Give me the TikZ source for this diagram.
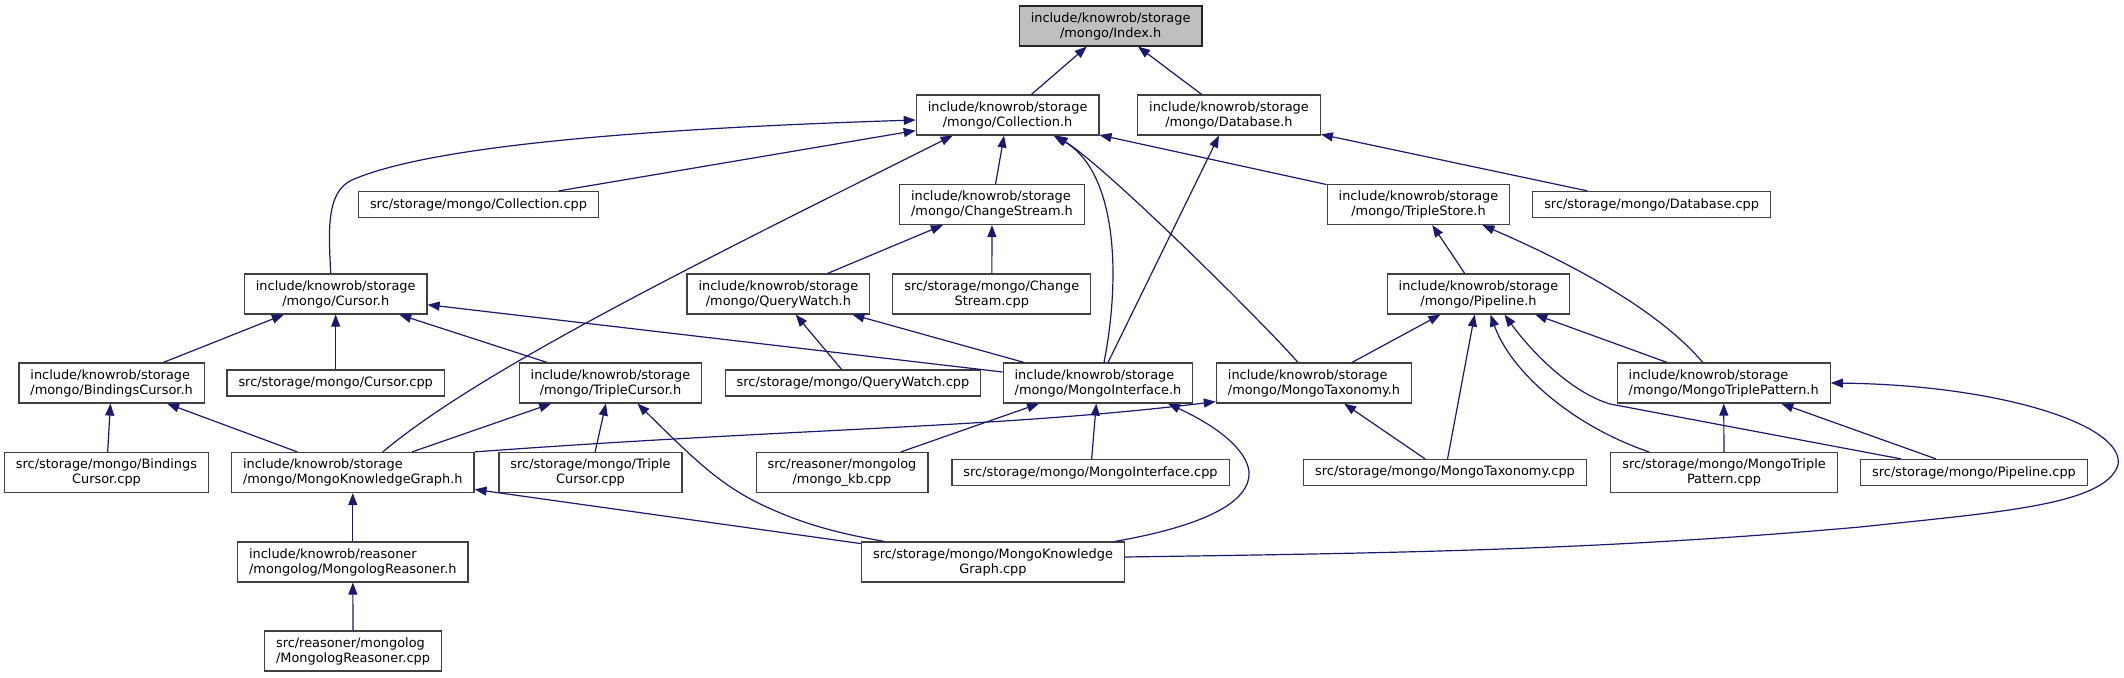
\documentclass[tikz,border=0pt]{standalone}
\usepackage{fontspec}
\usepackage{tikz}
\usetikzlibrary{arrows.meta}
\newfontfamily\graphfont{DejaVu Sans}
\definecolor{incblue}{RGB}{25,25,112}
\definecolor{boxgris}{RGB}{64,64,64}
\definecolor{rootgris}{RGB}{191,191,191}
\tikzset{
  incfile/.style={
    rectangle, draw=boxgris, fill=white, line width=1.2pt,
    inner xsep=11.5pt, inner ysep=3pt, minimum height=26pt,
    align=center, font=\graphfont\fontsize{12.9}{15}\selectfont
  },
  incfile2/.style={incfile, minimum height=40pt},
  rootfile/.style={incfile2, fill=rootgris, draw=black!85},
  incedge/.style={{Triangle[length=12pt,width=9pt]}-, line width=1.2pt, incblue}
}

\begin{document}
\begin{tikzpicture}[x=1pt, y=-1pt]
  \useasboundingbox (0,0) rectangle (2124,677);
  \node[rootfile] (index) at (1110.6,26) {include/knowrob/storage\\/mongo/Index.h};
  \node[incfile2] (collh) at (1007.6,115) {include/knowrob/storage\\/mongo/Collection.h};
  \node[incfile2] (dbh) at (1229,115) {include/knowrob/storage\\/mongo/Database.h};
  \node[incfile] (collcpp) at (478.5,204.5) {src/storage/mongo/Collection.cpp};
  \node[incfile2, align=left] (csh) at (992,204.5) {include/knowrob/storage\\/mongo/ChangeStream.h};
  \node[incfile2] (tsh) at (1418.5,204.5) {include/knowrob/storage\\/mongo/TripleStore.h};
  \node[incfile] (dbcpp) at (1651.6,204.5) {src/storage/mongo/Database.cpp};
  \node[incfile2] (cursorh) at (335.7,294) {include/knowrob/storage\\/mongo/Cursor.h};
  \node[incfile2] (qwh) at (778.4,294) {include/knowrob/storage\\/mongo/QueryWatch.h};
  \node[incfile2] (cscpp) at (991.8,294) {src/storage/mongo/Change\\Stream.cpp};
  \node[incfile2] (pipeh) at (1478.5,294) {include/knowrob/storage\\/mongo/Pipeline.h};
  \node[incfile2, align=left] (bch) at (111.6,383) {include/knowrob/storage\\/mongo/BindingsCursor.h};
  \node[incfile] (cursorcpp) at (335.7,383) {src/storage/mongo/Cursor.cpp};
  \node[incfile2] (tch) at (610.5,383) {include/knowrob/storage\\/mongo/TripleCursor.h};
  \node[incfile] (qwcpp) at (853,383) {src/storage/mongo/QueryWatch.cpp};
  \node[incfile2, align=left] (mih) at (1098,383) {include/knowrob/storage\\/mongo/MongoInterface.h};
  \node[incfile2, align=left] (mtaxh) at (1314,383) {include/knowrob/storage\\/mongo/MongoTaxonomy.h};
  \node[incfile2, align=left] (mtph) at (1723.7,383) {include/knowrob/storage\\/mongo/MongoTriplePattern.h};
  \node[incfile2] (bccpp) at (106.5,472.5) {src/storage/mongo/Bindings\\Cursor.cpp};
  \node[incfile2, align=left] (mkgh) at (352.8,472.5) {include/knowrob/storage\\/mongo/MongoKnowledgeGraph.h};
  \node[incfile2] (tccpp) at (590.5,472.5) {src/storage/mongo/Triple\\Cursor.cpp};
  \node[incfile2] (mkbcpp) at (842,472.5) {src/reasoner/mongolog\\/mongo\_kb.cpp};
  \node[incfile] (micpp) at (1090.5,472.5) {src/storage/mongo/MongoInterface.cpp};
  \node[incfile] (mtaxcpp) at (1445,472.5) {src/storage/mongo/MongoTaxonomy.cpp};
  \node[incfile2] (mtpcpp) at (1724,472.5) {src/storage/mongo/MongoTriple\\Pattern.cpp};
  \node[incfile] (pipecpp) at (1974,472.5) {src/storage/mongo/Pipeline.cpp};
  \node[incfile2, align=left] (mrh) at (352.8,562) {include/knowrob/reasoner\\/mongolog/MongologReasoner.h};
  \node[incfile2] (mkgcpp) at (993,562) {src/storage/mongo/MongoKnowledge\\Graph.cpp};
  \node[incfile2, align=left] (mrcpp) at (353,651) {src/reasoner/mongolog\\/MongologReasoner.cpp};

  % Arrows
  \draw[incedge] (index) -- (collh);
  \draw[incedge] (index) -- (dbh);
  \draw[incedge] ([yshift=-5pt]collh.west) .. controls (600,130) and (420,150) .. (352,180) .. controls (325,192) and (329,235) .. ([xshift=-5pt]cursorh.north);
  \draw[incedge] (collh) -- (collcpp);
  \draw[incedge] ([xshift=-55pt]collh.south) .. controls (700,262) and (480,370) .. ([xshift=30pt]mkgh.north);
  \draw[incedge] (collh) -- (csh);
  \draw[incedge] ([xshift=46pt]collh.south) .. controls (1115,170) and (1122,270) .. ([xshift=6pt]mih.north);
  \draw[incedge] ([xshift=48pt]collh.south) .. controls (1110,170) and (1270,330) .. ([xshift=-16pt]mtaxh.north);
  \draw[incedge] (collh) -- (tsh);
  \draw[incedge] (dbh) -- (dbcpp);
  \draw[incedge] (dbh) -- (mih);
  \draw[incedge] (csh) -- (qwh);
  \draw[incedge] (csh) -- (cscpp);
  \draw[incedge] (tsh) -- (pipeh);
  \draw[incedge] ([xshift=64pt]tsh.south) .. controls (1540,250) and (1650,300) .. ([xshift=-21pt]mtph.north);
  \draw[incedge] (cursorh) -- (bch);
  \draw[incedge] (cursorh) -- (cursorcpp);
  \draw[incedge] (cursorh) -- (tch);
  \draw[incedge] (cursorh) -- (mih);
  \draw[incedge] (qwh) -- (qwcpp);
  \draw[incedge] (qwh) -- (mih);
  \draw[incedge] (pipeh) -- (mtaxh);
  \draw[incedge] (pipeh) -- (mtaxcpp);
  \draw[incedge] ([xshift=12pt]pipeh.south) .. controls (1510,370) and (1570,425) .. ([xshift=-75pt]mtpcpp.north);
  \draw[incedge] ([xshift=26pt]pipeh.south) .. controls (1530,350) and (1570,392) .. (1610,404) -- ([xshift=-73pt]pipecpp.north);
  \draw[incedge] (pipeh) -- (mtph);
  \draw[incedge] (mtph) -- (mtpcpp);
  \draw[incedge] (mtph) -- (pipecpp);
  \draw[incedge] (mtph.east) .. controls (2000,385) and (2125,425) .. (2118,465) .. controls (2105,505) and (2000,512) .. (1860,527) .. controls (1600,550) and (1400,553) .. ([yshift=5pt]mkgcpp.east);
  \draw[incedge] (bch) -- (bccpp);
  \draw[incedge] (bch) -- (mkgh);
  \draw[incedge] (tch) -- (mkgh);
  \draw[incedge] (tch) -- (tccpp);
  \draw[incedge] ([xshift=27pt]tch.south) .. controls (700,465) and (725,490) .. (778,512) .. controls (820,530) and (860,537) .. ([xshift=-109pt]mkgcpp.north);
  \draw[incedge] ([yshift=2pt]mtaxh.south west) .. controls (1000,428) and (800,428) .. (mkgh.north east);
  \draw[incedge] (mtaxh) -- (mtaxcpp);
  \draw[incedge] (mih) -- (mkbcpp);
  \draw[incedge] (mih) -- (micpp);
  \draw[incedge] ([xshift=70pt]mih.south) .. controls (1225,430) and (1250,455) .. (1249,475) .. controls (1247,510) and (1180,530) .. ([xshift=122pt]mkgcpp.north);
  \draw[incedge] (mkgh) -- (mrh);
  \draw[incedge] (mkgh) -- (mkgcpp);
  \draw[incedge] (mrh) -- (mrcpp);
\end{tikzpicture}
\end{document}
